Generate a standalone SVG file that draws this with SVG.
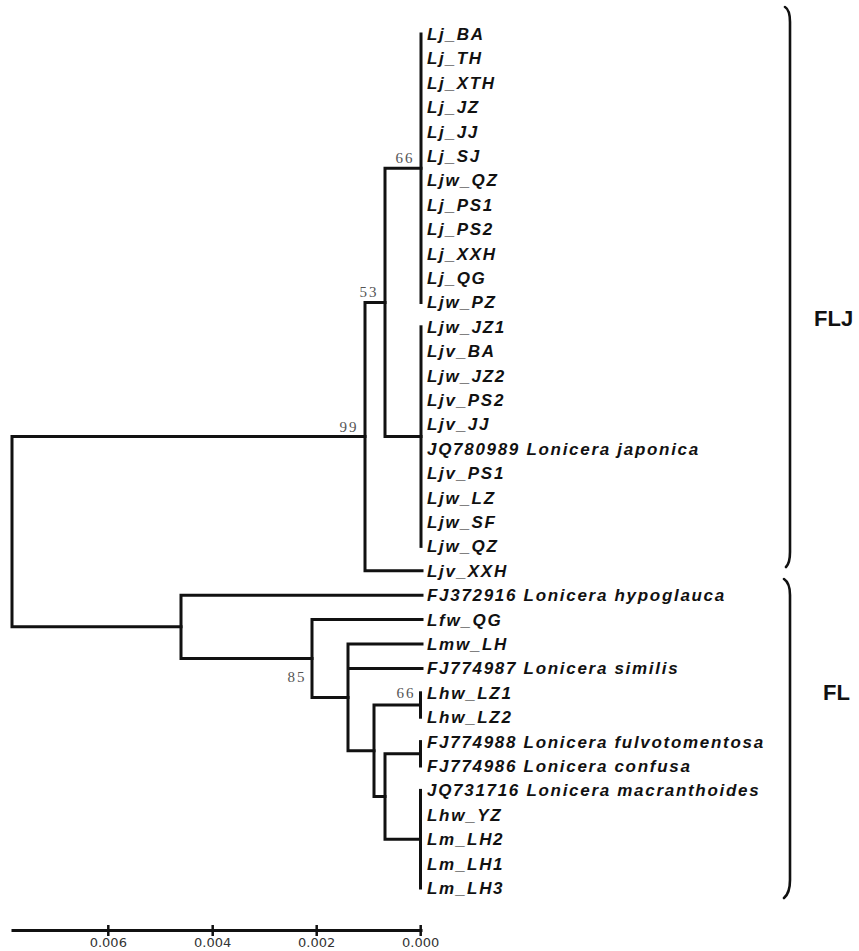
<svg xmlns="http://www.w3.org/2000/svg" width="859" height="951" viewBox="0 0 859 951">
<style>
.leaf{font-family:"Liberation Sans",Arial,sans-serif;font-size:17px;font-weight:bold;font-style:italic;letter-spacing:1.7px;fill:#111}
.bs{font-family:"Liberation Serif","Times New Roman",serif;font-size:15px;letter-spacing:2px;fill:#555;text-anchor:middle}
.br{fill:none;stroke:#111;stroke-width:3;stroke-linecap:square}
.brk{fill:none;stroke:#111;stroke-width:2.6;stroke-linecap:round}
.grp{font-family:"Liberation Sans",Arial,sans-serif;font-size:22px;font-weight:bold;fill:#111}
.sc{font-family:"DejaVu Sans",sans-serif;font-size:13px;fill:#333;text-anchor:middle}
</style>
<rect width="859" height="951" fill="#fff"/>
<g id="connectors">
<path class="br" d="M12,436.6 V626.85 M12,436.6 H365 M12,626.85 H181"/>
<path class="br" d="M365,302.4 V570.8 M365,302.4 H385 M365,570.8 H422"/>
<path class="br" d="M385,168.2 V436.6 M385,168.2 H421 M385,436.6 H421"/>
<path class="br" d="M421,34 V302.4"/>
<path class="br" d="M421,326.8 V546.4"/>
<path class="br" d="M181,595.2 V658.5 M181,595.2 H422 M181,658.5 H312"/>
<path class="br" d="M312,619.6 V697.4 M312,619.6 H422 M312,697.4 H348"/>
<path class="br" d="M348,644 V750.75 M348,644 H422 M348,668.4 H422 M348,750.75 H374"/>
<path class="br" d="M374,705 V796.5 M374,705 H420.5 M374,796.5 H385"/>
<path class="br" d="M385,753.8 V839.2 M385,753.8 H420.5 M385,839.2 H420.5"/>
<path class="br" d="M420.5,692.8 V717.2"/>
<path class="br" d="M420.5,741.6 V766"/>
<path class="br" d="M420.5,790.4 V888"/>
</g>
<g id="bootstrap">
<g id="bs-66a"><text class="bs" x="405" y="163">66</text></g>
<g id="bs-53"><text class="bs" x="369" y="297">53</text></g>
<g id="bs-99"><text class="bs" x="349" y="432">99</text></g>
<g id="bs-85"><text class="bs" x="297" y="682">85</text></g>
<g id="bs-66b"><text class="bs" x="406" y="698">66</text></g>
</g>
<g id="leaves">
<g id="l0"><text class="leaf" x="427" y="40">Lj_BA</text></g>
<g id="l1"><text class="leaf" x="427" y="64.4">Lj_TH</text></g>
<g id="l2"><text class="leaf" x="427" y="88.8">Lj_XTH</text></g>
<g id="l3"><text class="leaf" x="427" y="113.2">Lj_JZ</text></g>
<g id="l4"><text class="leaf" x="427" y="137.6">Lj_JJ</text></g>
<g id="l5"><text class="leaf" x="427" y="162">Lj_SJ</text></g>
<g id="l6"><text class="leaf" x="427" y="186.4">Ljw_QZ</text></g>
<g id="l7"><text class="leaf" x="427" y="210.8">Lj_PS1</text></g>
<g id="l8"><text class="leaf" x="427" y="235.2">Lj_PS2</text></g>
<g id="l9"><text class="leaf" x="427" y="259.6">Lj_XXH</text></g>
<g id="l10"><text class="leaf" x="427" y="284">Lj_QG</text></g>
<g id="l11"><text class="leaf" x="427" y="308.4">Ljw_PZ</text></g>
<g id="l12"><text class="leaf" x="427" y="332.8">Ljw_JZ1</text></g>
<g id="l13"><text class="leaf" x="427" y="357.2">Ljv_BA</text></g>
<g id="l14"><text class="leaf" x="427" y="381.6">Ljw_JZ2</text></g>
<g id="l15"><text class="leaf" x="427" y="406">Ljv_PS2</text></g>
<g id="l16"><text class="leaf" x="427" y="430.4">Ljv_JJ</text></g>
<g id="l17"><text class="leaf" x="427" y="454.8">JQ780989 Lonicera japonica</text></g>
<g id="l18"><text class="leaf" x="427" y="479.2">Ljv_PS1</text></g>
<g id="l19"><text class="leaf" x="427" y="503.6">Ljw_LZ</text></g>
<g id="l20"><text class="leaf" x="427" y="528">Ljw_SF</text></g>
<g id="l21"><text class="leaf" x="427" y="552.4">Ljw_QZ</text></g>
<g id="l22"><text class="leaf" x="427" y="576.8">Ljv_XXH</text></g>
<g id="l23"><text class="leaf" x="427" y="601.2">FJ372916 Lonicera hypoglauca</text></g>
<g id="l24"><text class="leaf" x="427" y="625.6">Lfw_QG</text></g>
<g id="l25"><text class="leaf" x="427" y="650">Lmw_LH</text></g>
<g id="l26"><text class="leaf" x="427" y="674.4">FJ774987 Lonicera similis</text></g>
<g id="l27"><text class="leaf" x="427" y="698.8">Lhw_LZ1</text></g>
<g id="l28"><text class="leaf" x="427" y="723.2">Lhw_LZ2</text></g>
<g id="l29"><text class="leaf" x="427" y="747.6">FJ774988 Lonicera fulvotomentosa</text></g>
<g id="l30"><text class="leaf" x="427" y="772">FJ774986 Lonicera confusa</text></g>
<g id="l31"><text class="leaf" x="427" y="796.4">JQ731716 Lonicera macranthoides</text></g>
<g id="l32"><text class="leaf" x="427" y="820.8">Lhw_YZ</text></g>
<g id="l33"><text class="leaf" x="427" y="845.2">Lm_LH2</text></g>
<g id="l34"><text class="leaf" x="427" y="869.6">Lm_LH1</text></g>
<g id="l35"><text class="leaf" x="427" y="894">Lm_LH3</text></g>
</g>
<g id="group-FLJ">
<path class="brk" d="M785,7 Q790,10 790,22 V552 Q790,563 786,567"/>
<text class="grp" x="814" y="326">FLJ</text>
</g>
<g id="group-FL">
<path class="brk" d="M784,579 Q790,583 790,595 V880 Q790,893 784,898"/>
<text class="grp" x="823" y="700">FL</text>
</g>
<g id="scale">
<path class="br" d="M13,930.5 H421"/>
<path fill="none" stroke="#111" stroke-width="2.5" d="M108.3,925 V936 M212.7,925 V936 M316.7,925 V936 M420.7,925 V936"/>
<text class="sc" x="108.3" y="947">0.006</text>
<text class="sc" x="212.7" y="947">0.004</text>
<text class="sc" x="316.7" y="947">0.002</text>
<text class="sc" x="420.7" y="947">0.000</text>
</g>
</svg>
